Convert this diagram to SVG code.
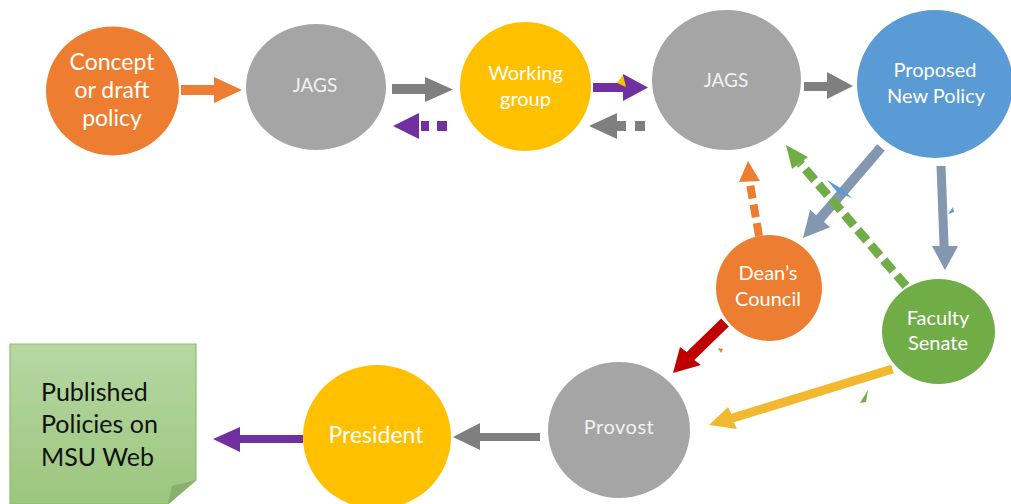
<svg xmlns="http://www.w3.org/2000/svg" width="1011" height="504" viewBox="0 0 1011 504">
<defs>
<linearGradient id="gBox" x1="0" y1="0" x2="0" y2="1">
<stop offset="0" stop-color="#B6D7A3"/>
<stop offset="1" stop-color="#9CC67E"/>
</linearGradient>
<style>
.t{font-family:Lato,"Liberation Sans",sans-serif;text-anchor:middle;fill:#FFFFFF}
.tg{fill:#F2F2F2}
.orange{fill:#ED7D31}
.gray{fill:#A5A5A5}
.yellow{fill:#FFC000}
.blue{fill:#5B9BD5}
.green{fill:#70AD47}
.aGray{fill:#7F7F7F}
.aPurple{fill:#7030A0}
.aOrange{fill:#ED7D31}
.aSlate{fill:#8497B0}
.aRed{fill:#C00000}
.aYellow{fill:#F2B830}
.aGreen{fill:#70AD47}
</style>
</defs>
<rect width="1011" height="504" fill="#FFFFFF"/>

<g id="connectors">
<polygon class="aOrange" points="181,85 214,85 214,77 242,90 214,103 214,95 181,95"/>
<polygon class="aGray" points="392,84 425,84 425,77 453,89.5 425,102 425,94 392,94"/>
<polygon class="aPurple" points="393,126 419,113 419,139"/>
<rect class="aPurple" x="421" y="121" width="8" height="10"/>
<rect class="aPurple" x="437" y="121" width="10" height="10"/>
<polygon class="aPurple" points="593,83 623,83 623,74 648,87.5 623,101 623,92 593,92"/>
<polygon fill="#FFC000" points="617,83 623,75 626,87"/>
<polygon class="aGray" points="589,126 617,113 617,139"/>
<rect class="aGray" x="617" y="121" width="9" height="10"/>
<rect class="aGray" x="635" y="121" width="10" height="10"/>
<polygon class="aGray" points="804,82 827,82 827,72 853,86 827,99 827,91 804,91"/>
<polygon class="aSlate" points="877.2,144.2 884.8,150.8 823.9,221.8 830.1,227.3 803,238 810.1,209.7 816.3,215.2"/>
<polygon class="aSlate" points="936.5,166 945.5,166 948.6,246 958,246 945,270 932,246 939.6,246"/>
<polygon fill="#5B9BD5" points="827,180 842,189 852,198 838,193"/>
<polygon fill="#5B9BD5" points="948,214 953,207 954,212"/>
<line x1="759" y1="236" x2="749.5" y2="181" stroke="#ED7D31" stroke-width="8" stroke-dasharray="13 6"/>
<polygon class="aOrange" points="748,161 739,182 760,181"/>
<line x1="906" y1="286" x2="800" y2="163" stroke="#70AD47" stroke-width="9" stroke-dasharray="14 6"/>
<polygon class="aGreen" points="786,145 792,169 808,157"/>
<polygon class="aRed" points="721.2,318.6 728.8,326.4 694.3,359.9 701,365 673,373 680,347 686.7,352.1"/>
<polygon fill="#ED7D31" points="718,348 723,349 721,353"/>
<polygon class="aYellow" points="891.2,364.7 893.8,373.3 733.8,422.3 737,429 709,425 728,407 731.2,413.7"/>
<polygon fill="#70AD47" points="868,390 860,403 866,402"/>
<polygon class="aGray" points="540,433 480,433 480,423 453,437 480,450 480,441 540,441"/>
<polygon class="aPurple" points="303,435 240,435 240,427 213,439 240,452 240,443 303,443"/>
</g>

<g id="concept">
<ellipse class="orange" cx="112.5" cy="91" rx="66.5" ry="64.5"/>
<text class="t" x="112" font-size="23"><tspan x="112" y="70">Concept</tspan><tspan x="112" y="98">or draft</tspan><tspan x="112" y="126">policy</tspan></text>
</g>

<g id="jags1">
<ellipse class="gray" cx="316" cy="87" rx="70" ry="63"/>
<text class="t tg" x="315" y="92" font-size="19">JAGS</text>
</g>

<g id="working-group">
<ellipse class="yellow" cx="525.5" cy="86.5" rx="65.5" ry="64.5"/>
<text class="t" font-size="20"><tspan x="525.5" y="80">Working</tspan><tspan x="525.5" y="106">group</tspan></text>
</g>

<g id="jags2">
<ellipse class="gray" cx="726.5" cy="80" rx="74.5" ry="70"/>
<text class="t tg" x="726" y="87" font-size="19">JAGS</text>
</g>
<polygon fill="#A5A5A5" points="879,88 883,83 883,93"/>

<g id="proposed">
<ellipse class="blue" cx="935" cy="84" rx="78" ry="74"/>
<text class="t" font-size="20"><tspan x="935" y="77">Proposed</tspan><tspan x="936" y="103">New Policy</tspan></text>
</g>

<g id="deans-council">
<circle class="orange" cx="769" cy="288" r="53"/>
<text class="t" font-size="20"><tspan x="768" y="280">Dean’s</tspan><tspan x="768" y="306">Council</tspan></text>
</g>

<g id="faculty-senate">
<ellipse class="green" cx="938.5" cy="331.5" rx="56.5" ry="52.5"/>
<text class="t" font-size="20"><tspan x="938" y="325">Faculty</tspan><tspan x="938" y="350">Senate</tspan></text>
</g>

<g id="provost">
<ellipse class="gray" cx="619" cy="430" rx="71" ry="68"/>
<text class="t tg" x="619" y="434" font-size="20" letter-spacing="0.5">Provost</text>
</g>

<g id="president">
<ellipse class="yellow" cx="377" cy="437" rx="74" ry="72"/>
<text class="t" x="376" y="443" font-size="23">President</text>
</g>

<g id="published">
<path d="M10,344 H196 V480 L168,504 H10 Z" fill="url(#gBox)" stroke="#8DBF6C" stroke-width="1.2"/>
<polygon points="196,480 172,486 168,504" fill="#8AAF70"/>
<text font-family="Lato,'Liberation Sans',sans-serif" font-size="25" fill="#111111"><tspan x="41" y="401">Published</tspan><tspan x="41" y="433">Policies on</tspan><tspan x="41" y="466">MSU Web</tspan></text>
</g>
</svg>
